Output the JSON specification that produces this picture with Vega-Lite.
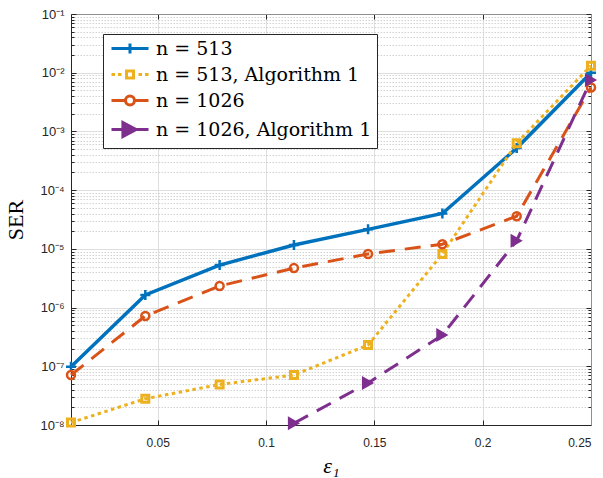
{
  "$schema": "https://vega.github.io/schema/vega-lite/v6.json",
  "width": 520,
  "height": 411,
  "autosize": {"type": "none"},
  "padding": {"left": 71, "top": 14, "right": 12, "bottom": 53},
  "background": "white",
  "config": {"view": {"stroke": null}},
  "data": {"values": [
    {"series": "n = 513", "x": 0.01, "ser": 9.8e-8},
    {"series": "n = 513", "x": 0.0443, "ser": 1.64e-6},
    {"series": "n = 513", "x": 0.0786, "ser": 5.3e-6},
    {"series": "n = 513", "x": 0.1129, "ser": 1.16e-5},
    {"series": "n = 513", "x": 0.1471, "ser": 2.15e-5},
    {"series": "n = 513", "x": 0.1814, "ser": 4.0e-5},
    {"series": "n = 513", "x": 0.2157, "ser": 5.2e-4},
    {"series": "n = 513", "x": 0.25, "ser": 1.0e-2},
    {"series": "n = 513, Algorithm 1", "x": 0.01, "ser": 1.1e-8},
    {"series": "n = 513, Algorithm 1", "x": 0.0443, "ser": 2.8e-8},
    {"series": "n = 513, Algorithm 1", "x": 0.0786, "ser": 4.9e-8},
    {"series": "n = 513, Algorithm 1", "x": 0.1129, "ser": 7.1e-8},
    {"series": "n = 513, Algorithm 1", "x": 0.1471, "ser": 2.3e-7},
    {"series": "n = 513, Algorithm 1", "x": 0.1814, "ser": 8.2e-6},
    {"series": "n = 513, Algorithm 1", "x": 0.2157, "ser": 6.3e-4},
    {"series": "n = 513, Algorithm 1", "x": 0.25, "ser": 1.32e-2},
    {"series": "n = 1026", "x": 0.01, "ser": 7.1e-8},
    {"series": "n = 1026", "x": 0.0443, "ser": 7.2e-7},
    {"series": "n = 1026", "x": 0.0786, "ser": 2.33e-6},
    {"series": "n = 1026", "x": 0.1129, "ser": 4.7e-6},
    {"series": "n = 1026", "x": 0.1471, "ser": 8.2e-6},
    {"series": "n = 1026", "x": 0.1814, "ser": 1.2e-5},
    {"series": "n = 1026", "x": 0.2157, "ser": 3.6e-5},
    {"series": "n = 1026", "x": 0.25, "ser": 5.6e-3},
    {"series": "n = 1026, Algorithm 1", "x": 0.1129, "ser": 1.07e-8},
    {"series": "n = 1026, Algorithm 1", "x": 0.1471, "ser": 5.2e-8},
    {"series": "n = 1026, Algorithm 1", "x": 0.1814, "ser": 3.4e-7},
    {"series": "n = 1026, Algorithm 1", "x": 0.2157, "ser": 1.38e-5},
    {"series": "n = 1026, Algorithm 1", "x": 0.25, "ser": 7.5e-3}
  ]},
  "resolve": {"axis": {"x": "independent", "y": "independent"}},
  "layer": [
    {
      "transform": [{"filter": "false"}],
      "mark": {"type": "point", "opacity": 1},
      "encoding": {
        "x": {"field": "x", "type": "quantitative", "scale": {"domain": [0.01, 0.25], "nice": false, "zero": false},
          "axis": {"orient": "top", "values": [0.05, 0.1, 0.15, 0.2], "labels": false, "grid": false, "title": null, "tickSize": -5, "tickColor": "#262626", "domainColor": "#8f8f8f"}},
        "y": {"field": "ser", "type": "quantitative", "scale": {"type": "log", "domain": [1e-8, 0.1], "nice": false},
          "axis": {"orient": "right", "labels": false, "grid": false, "title": null, "domainColor": "#8f8f8f", "tickColor": "#262626",
            "tickSize": {"condition": {"test": "abs(log(datum.value)/LN10 - round(log(datum.value)/LN10)) < 0.01", "value": -5}, "value": -3},
            "values": [1e-8,2e-8,3e-8,4e-8,5e-8,6e-8,7e-8,8e-8,9e-8,1e-7,2e-7,3e-7,4e-7,5e-7,6e-7,7e-7,8e-7,9e-7,1e-6,2e-6,3e-6,4e-6,5e-6,6e-6,7e-6,8e-6,9e-6,1e-5,2e-5,3e-5,4e-5,5e-5,6e-5,7e-5,8e-5,9e-5,1e-4,2e-4,3e-4,4e-4,5e-4,6e-4,7e-4,8e-4,9e-4,1e-3,2e-3,3e-3,4e-3,5e-3,6e-3,7e-3,8e-3,9e-3,1e-2,2e-2,3e-2,4e-2,5e-2,6e-2,7e-2,8e-2,9e-2,1e-1]}},
        "stroke": {"field": "series", "type": "nominal",
          "scale": {"domain": ["n = 513", "n = 513, Algorithm 1", "n = 1026", "n = 1026, Algorithm 1"], "range": ["#0072BD", "#EDB120", "#D95319", "#7E2F8E"]},
          "legend": {"orient": "none", "legendX": 32, "legendY": 20, "title": null,
            "labelFont": "DejaVu Serif", "labelFontSize": 19, "labelColor": "black", "labelLimit": 400,
            "symbolSize": 144, "symbolStrokeWidth": 3, "symbolOpacity": 1, "labelOffset": 29, "rowPadding": 5, "padding": 5,
            "strokeColor": "#262626", "fillColor": "white", "cornerRadius": 0}},
        "fill": {"field": "series", "type": "nominal",
          "scale": {"domain": ["n = 513", "n = 513, Algorithm 1", "n = 1026", "n = 1026, Algorithm 1"], "range": ["transparent", "transparent", "transparent", "#7E2F8E"]}},
        "shape": {"field": "series", "type": "nominal",
          "scale": {"domain": ["n = 513", "n = 513, Algorithm 1", "n = 1026", "n = 1026, Algorithm 1"],
            "range": [
              "M-1,0H5.17M2.08,-0.83V0.83",
              "M-1,0H-0.42M0.08,0H0.67M3.5,0H4.08M4.58,0H5.17M1.5,-0.58H2.67V0.58H1.5Z",
              "M-1,0H1.25M2.92,0H5.17M1.33,0A0.75,0.75 0 1,0 2.83,0A0.75,0.75 0 1,0 1.33,0Z",
              "M-1,0H1M3,0H5.17M0.9,-1.17L3.1,0L0.9,1.17Z"
            ]}}
      }
    },
    {
      "transform": [{"filter": "datum.series === 'n = 513'"}],
      "mark": {"type": "line", "color": "#0072BD", "strokeWidth": 3.5},
      "encoding": {
        "x": {"field": "x", "type": "quantitative",
          "axis": {"orient": "bottom", "values": [0.05, 0.1, 0.15, 0.2, 0.25], "format": "~g", "grid": true, "gridColor": "#dedede",
            "tickSize": -5, "tickColor": "#262626", "domainColor": "#262626", "labelFont": "Liberation Sans", "labelFontSize": 12, "labelColor": "#262626", "labelPadding": 17,
            "title": "ε₁", "titleFont": "Liberation Serif", "titleFontSize": 22, "titleFontStyle": "italic", "titleFontWeight": "normal", "titleColor": "black", "titlePadding": 7}},
        "y": {"field": "ser", "type": "quantitative",
          "axis": {"orient": "left", "grid": true,
            "gridColor": {"condition": {"test": "abs(log(datum.value)/LN10 - round(log(datum.value)/LN10)) < 0.01", "value": "#dedede"}, "value": "#d2d2d2"},
            "gridDash": {"condition": {"test": "abs(log(datum.value)/LN10 - round(log(datum.value)/LN10)) < 0.01", "value": []}, "value": [1.5, 1.5]},
            "tickSize": {"condition": {"test": "abs(log(datum.value)/LN10 - round(log(datum.value)/LN10)) < 0.01", "value": -5}, "value": -3},
            "tickColor": "#262626", "domainColor": "#262626",
            "labelExpr": "abs(log(datum.value)/LN10 - round(log(datum.value)/LN10)) < 0.01 ? '10' + ['⁻¹','⁻²','⁻³','⁻⁴','⁻⁵','⁻⁶','⁻⁷','⁻⁸'][-round(log(datum.value)/LN10) - 1] : ''",
            "labelFont": "Liberation Sans", "labelFontSize": 13, "labelColor": "#262626", "labelPadding": 12,
            "title": "SER", "titleFont": "Liberation Serif", "titleFontSize": 22, "titleFontWeight": "normal", "titleColor": "black", "titlePadding": 12,
            "values": [1e-8,2e-8,3e-8,4e-8,5e-8,6e-8,7e-8,8e-8,9e-8,1e-7,2e-7,3e-7,4e-7,5e-7,6e-7,7e-7,8e-7,9e-7,1e-6,2e-6,3e-6,4e-6,5e-6,6e-6,7e-6,8e-6,9e-6,1e-5,2e-5,3e-5,4e-5,5e-5,6e-5,7e-5,8e-5,9e-5,1e-4,2e-4,3e-4,4e-4,5e-4,6e-4,7e-4,8e-4,9e-4,1e-3,2e-3,3e-3,4e-3,5e-3,6e-3,7e-3,8e-3,9e-3,1e-2,2e-2,3e-2,4e-2,5e-2,6e-2,7e-2,8e-2,9e-2,1e-1]}}
      }
    },
    {
      "transform": [{"filter": "datum.series === 'n = 513'"}],
      "mark": {"type": "point", "shape": "M-1,0H1M0,-1V1", "size": 100, "filled": false, "color": "#0072BD", "strokeWidth": 2.5, "opacity": 1},
      "encoding": {"x": {"field": "x", "type": "quantitative", "axis": null}, "y": {"field": "ser", "type": "quantitative", "axis": null}}
    },
    {
      "transform": [{"filter": "datum.series === 'n = 513, Algorithm 1'"}],
      "mark": {"type": "line", "color": "#EDB120", "strokeWidth": 3, "strokeDash": [3.5, 3.5], "strokeCap": "butt"},
      "encoding": {"x": {"field": "x", "type": "quantitative", "axis": null}, "y": {"field": "ser", "type": "quantitative", "axis": null}}
    },
    {
      "transform": [{"filter": "datum.series === 'n = 513, Algorithm 1'"}],
      "mark": {"type": "point", "shape": "square", "size": 49, "filled": false, "color": "#EDB120", "strokeWidth": 3, "opacity": 1},
      "encoding": {"x": {"field": "x", "type": "quantitative", "axis": null}, "y": {"field": "ser", "type": "quantitative", "axis": null}}
    },
    {
      "transform": [{"filter": "datum.series === 'n = 1026'"}],
      "mark": {"type": "line", "color": "#D95319", "strokeWidth": 3, "strokeDash": [16, 10]},
      "encoding": {"x": {"field": "x", "type": "quantitative", "axis": null}, "y": {"field": "ser", "type": "quantitative", "axis": null}}
    },
    {
      "transform": [{"filter": "datum.series === 'n = 1026'"}],
      "mark": {"type": "point", "shape": "circle", "size": 64, "filled": false, "color": "#D95319", "strokeWidth": 2.5, "opacity": 1},
      "encoding": {"x": {"field": "x", "type": "quantitative", "axis": null}, "y": {"field": "ser", "type": "quantitative", "axis": null}}
    },
    {
      "transform": [{"filter": "datum.series === 'n = 1026, Algorithm 1'"}],
      "mark": {"type": "line", "color": "#7E2F8E", "strokeWidth": 3, "strokeDash": [16, 10]},
      "encoding": {"x": {"field": "x", "type": "quantitative", "axis": null}, "y": {"field": "ser", "type": "quantitative", "axis": null}}
    },
    {
      "transform": [{"filter": "datum.series === 'n = 1026, Algorithm 1'"}],
      "mark": {"type": "point", "shape": "M-0.87,-1L0.87,0L-0.87,1Z", "size": 196, "filled": true, "color": "#7E2F8E", "strokeWidth": 1, "opacity": 1},
      "encoding": {"x": {"field": "x", "type": "quantitative", "axis": null}, "y": {"field": "ser", "type": "quantitative", "axis": null}}
    }
  ]
}
